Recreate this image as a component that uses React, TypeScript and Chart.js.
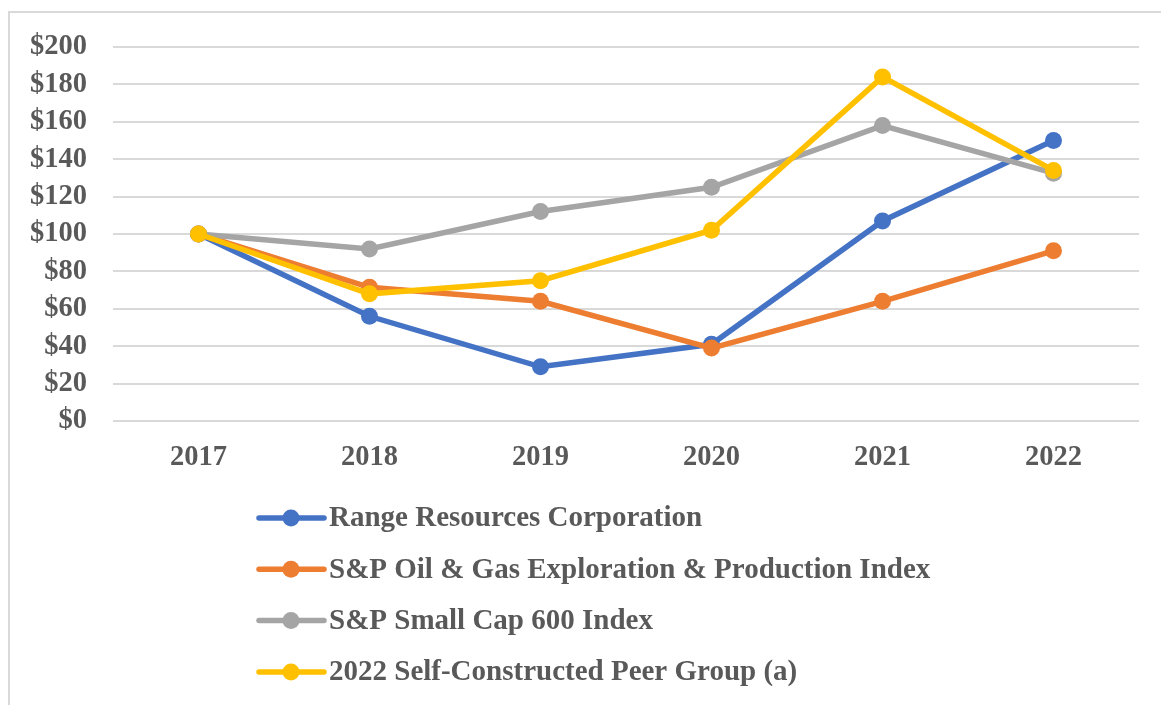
import React, { useEffect, useRef } from "react";
import { Chart, registerables } from "chart.js";

Chart.register(...registerables);

const years = ["2017", "2018", "2019", "2020", "2021", "2022"];
const rangeResources = [100, 56, 29, 41, 107, 150];
const spOilGas = [100, 71.5, 64, 39, 64, 91];
const spSmallCap = [100, 92, 112, 125, 158, 132.5];
const peerGroup = [100, 68, 75, 102, 184, 134];

const seriesNames = [
  "Range Resources Corporation",
  "S&P Oil & Gas Exploration & Production Index",
  "S&P Small Cap 600 Index",
  "2022 Self-Constructed Peer Group (a)",
];
const seriesColors = ["#4472C4", "#ED7D31", "#A5A5A5", "#FFC000"];

const FONT_FAMILY = "'Liberation Serif', 'Times New Roman', serif";
const TEXT_COLOR = "#595959";

const legendPlugin = {
  id: "stackedLegend",
  afterDraw(chart: any) {
    const ctx = chart.ctx;
    ctx.save();
    const datasets = chart.data.datasets;
    datasets.forEach((ds: any, i: number) => {
      const y = 518 + i * 51.3;
      ctx.strokeStyle = ds.borderColor;
      ctx.lineWidth = 5.5;
      ctx.lineCap = "round";
      ctx.beginPath();
      ctx.moveTo(259, y);
      ctx.lineTo(324, y);
      ctx.stroke();
      ctx.fillStyle = ds.borderColor;
      ctx.beginPath();
      ctx.arc(291, y, 8.5, 0, Math.PI * 2);
      ctx.fill();
      ctx.fillStyle = TEXT_COLOR;
      ctx.font = `bold 29px ${FONT_FAMILY}`;
      ctx.textAlign = "left";
      ctx.textBaseline = "middle";
      ctx.fillText(ds.label, 329, y + 1);
    });
    ctx.restore();
  },
};

export default function App() {
  const canvasRef = useRef<HTMLCanvasElement | null>(null);

  useEffect(() => {
    if (!canvasRef.current) return;
    const seriesData = [rangeResources, spOilGas, spSmallCap, peerGroup];
    const chart = new Chart(canvasRef.current, {
      type: "line",
      data: {
        labels: years,
        datasets: seriesData.map((d, i) => ({
          label: seriesNames[i],
          data: d,
          borderColor: seriesColors[i],
          backgroundColor: seriesColors[i],
          pointBackgroundColor: seriesColors[i],
          pointBorderColor: seriesColors[i],
          borderWidth: 5.5,
          pointRadius: 8.5,
          pointBorderWidth: 0,
          tension: 0,
          fill: false,
          order: 4 - i,
        })),
      },
      options: {
        responsive: false,
        animation: false,
        devicePixelRatio: 1,
        layout: { padding: { top: 47, right: 22, left: 0, bottom: 224 } },
        plugins: {
          legend: { display: false },
          tooltip: { enabled: false },
        },
        scales: {
          x: {
            offset: true,
            grid: { display: false, drawTicks: false },
            border: { display: false },
            ticks: {
              color: TEXT_COLOR,
              font: { family: FONT_FAMILY, size: 28.5, weight: "bold" },
              padding: 20,
              maxRotation: 0,
            },
            afterFit(scale: any) {
              scale.height = 60;
            },
          },
          y: {
            min: 0,
            max: 200,
            grid: { color: "#d9d9d9", lineWidth: 2, drawTicks: false },
            border: { display: false },
            ticks: {
              stepSize: 20,
              color: TEXT_COLOR,
              font: { family: FONT_FAMILY, size: 28.5, weight: "bold" },
              padding: 26,
              callback: (v: any) => "$" + v,
            },
            afterFit(scale: any) {
              scale.width = 113;
            },
          },
        },
      },
      plugins: [legendPlugin],
    });
    return () => chart.destroy();
  }, []);

  return (
    <div style={{ position: "absolute", left: 0, top: 0, width: 1161, height: 705, background: "#fff" }}>
      <div
        style={{
          position: "absolute",
          left: 8,
          top: 11,
          right: 0,
          bottom: 0,
          borderTop: "2px solid #d9d9d9",
          borderLeft: "2px solid #d9d9d9",
        }}
      />
      <canvas
        ref={canvasRef}
        width={1161}
        height={705}
        style={{ position: "absolute", left: 0, top: 0, width: 1161, height: 705 }}
      />
    </div>
  );
}
